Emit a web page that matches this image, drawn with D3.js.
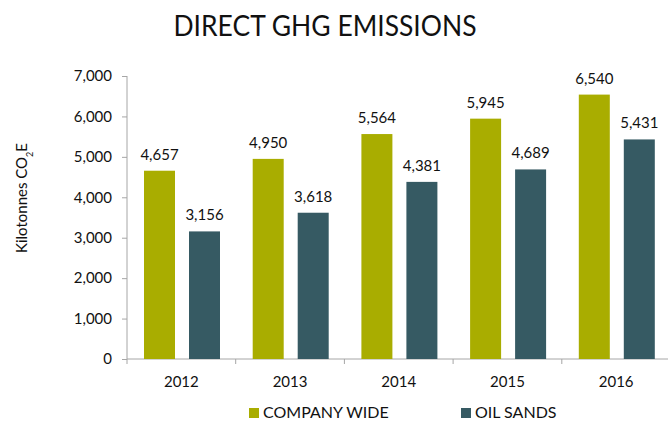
<!DOCTYPE html>
<html><head><meta charset="utf-8">
<script src="https://cdn.jsdelivr.net/npm/d3@7"></script>
<style>body{margin:0;background:#fff;} text{font-family:Lato, "Open Sans", sans-serif;}</style>
</head><body>
<svg id="c" width="668" height="423"></svg>
<script>
const years = ["2012","2013","2014","2015","2016"];
const companyWide = [4657,4950,5564,5945,6540];
const oilSands = [3156,3618,4381,4689,5431];
const seriesNames = ["COMPANY WIDE","OIL SANDS"];
const colors = ["#A9AD00","#365A63"];
const yTicks = [0,1000,2000,3000,4000,5000,6000,7000];

const svg = d3.select("#c");
const x0 = 127, bandW = 108.7;
const x = d3.scaleBand().domain(years).range([x0, x0 + bandW*years.length]).paddingInner(0).paddingOuter(0);
const y = d3.scaleLinear().domain([0,7000]).range([359,76]);
const fmt = d3.format(",");

svg.append("text").attr("x",325).attr("y",36).attr("text-anchor","middle")
  .attr("font-size",29).attr("textLength",303).attr("lengthAdjust","spacingAndGlyphs")
  .attr("fill","#111").text("DIRECT GHG EMISSIONS");

// y axis
const ya = svg.append("g").attr("transform",`translate(${x0},0)`)
  .call(d3.axisLeft(y).tickValues(yTicks).tickFormat(fmt).tickSize(5).tickPadding(10));
ya.select(".domain").attr("stroke","#a6a6a6").attr("d",`M0,${y(7000)}V${y(0)}`);
ya.selectAll(".tick line").attr("stroke","#a6a6a6");
ya.selectAll("text").attr("font-size",15).attr("fill","#111").style("font-family","Lato, sans-serif");

// x axis
const xa = svg.append("g").attr("transform",`translate(0,${y(0)})`)
  .call(d3.axisBottom(x).tickSize(0).tickPadding(17));
xa.select(".domain").attr("stroke","#a6a6a6").attr("d",`M${x0},0H668`);
xa.selectAll("text").attr("font-size",15).attr("fill","#111").style("font-family","Lato, sans-serif");
xa.selectAll(".sep").data(years).enter().append("line")
  .attr("x1",d=>x(d)).attr("x2",d=>x(d))
  .attr("y1",0).attr("y2",5).attr("stroke","#a6a6a6");

const series = [companyWide, oilSands];
const offs = [17,62], bw = 31;
series.forEach((vals,si)=>{
  const g = svg.append("g");
  g.selectAll("rect").data(vals).enter().append("rect")
    .attr("x",(d,i)=>x(years[i])+offs[si]).attr("width",bw)
    .attr("y",d=>y(d)).attr("height",d=>y(0)-y(d)).attr("fill",colors[si]);
  g.selectAll("text").data(vals).enter().append("text")
    .attr("x",(d,i)=>x(years[i])+offs[si]+bw/2).attr("y",d=>y(d)-11)
    .attr("text-anchor","middle").attr("font-size",15).attr("fill","#111").text(d=>fmt(d));
});

// y label
svg.append("text").attr("transform","translate(27,198) rotate(-90)").attr("text-anchor","middle")
  .attr("font-size",15).attr("fill","#111")
  .html('Kilotonnes CO<tspan baseline-shift="sub" font-size="9">2</tspan>E');

// legend
const lx = [249,461];
seriesNames.forEach((n,i)=>{
  svg.append("rect").attr("x",lx[i]).attr("y",408).attr("width",10).attr("height",10).attr("fill",colors[i]);
  svg.append("text").attr("x",lx[i]+14).attr("y",418).attr("font-size",16).attr("fill","#111").text(n);
});
</script>
</body></html>
